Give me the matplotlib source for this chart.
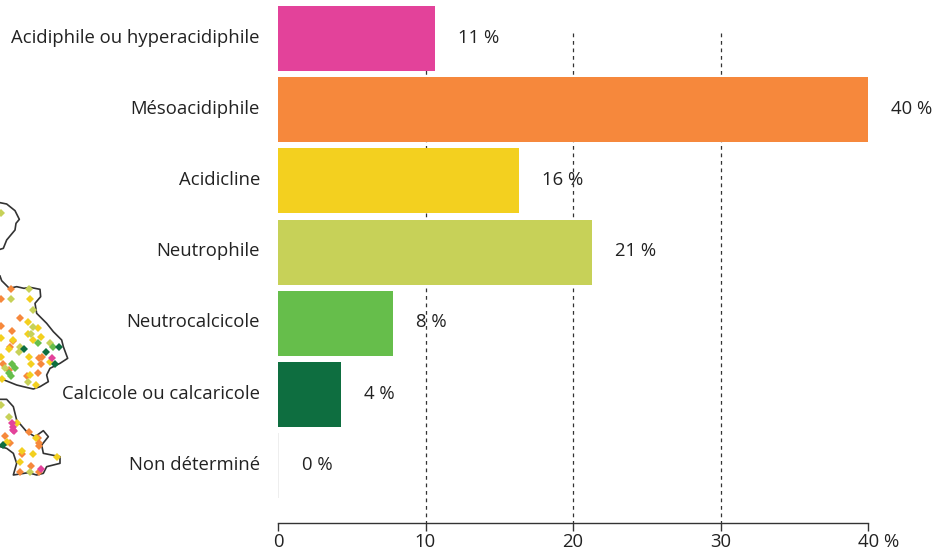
import matplotlib
matplotlib.use("Agg")
import matplotlib.pyplot as plt

plt.rcParams["font.family"] = ["Open Sans", "DejaVu Sans"]

categories = ["Acidiphile ou hyperacidiphile", "Mésoacidiphile", "Acidicline", "Neutrophile",
              "Neutrocalcicole", "Calcicole ou calcaricole", "Non déterminé"]
values = [10.65, 40, 16.35, 21.3, 7.8, 4.3, 0.08]
value_labels = ["11 %", "40 %", "16 %", "21 %", "8 %", "4 %", "0 %"]
bar_colors = ["#E3429A", "#F6883C", "#F3D01F", "#C7D158", "#66BE4B", "#0E6E40", "#EEEEEE"]
x_ticks = [0, 10, 20, 30, 40]
x_labels = ["0", "10", "20", "30", ""]

# map fragments on the left, in units of the 240x870 crop
outline_top = [(0, 38), (20, 42), (45, 62), (58, 88), (48, 100), (45, 120), (20, 150), (10, 175), (0, 178)]
outline_mid = [(0, 258), (5, 272), (28, 295), (50, 290), (72, 295), (90, 292), (120, 298), (122, 320),
               (105, 340), (110, 370), (140, 400), (160, 425), (185, 450), (190, 470), (203, 505),
               (180, 520), (150, 535), (140, 555), (145, 575), (120, 590), (100, 597), (70, 590),
               (50, 585), (25, 575), (0, 565)]
outline_bot = [(0, 628), (20, 628), (40, 650), (50, 690), (80, 725), (105, 740), (130, 722), (145, 740),
               (125, 765), (130, 790), (180, 800), (180, 820), (140, 830), (130, 850), (110, 855),
               (85, 848), (40, 855), (50, 820), (40, 790), (20, 775), (0, 770)]

pts_orange = [(32, 298), (2, 328), (60, 385), (2, 408), (36, 424), (30, 472), (38, 452), (125, 500),
              (118, 505), (122, 522), (8, 522), (28, 540), (114, 549), (80, 558), (88, 725), (14, 738),
              (30, 758), (115, 745), (118, 760), (116, 768), (65, 792), (93, 828), (60, 845), (118, 845)]
pts_yellow = [(89, 327), (85, 397), (115, 415), (122, 442), (100, 450), (85, 432), (2, 445), (40, 450),
              (28, 478), (2, 500), (88, 500), (94, 522), (150, 515), (90, 555), (108, 585), (5, 568),
              (50, 700), (20, 755), (108, 745), (65, 782), (100, 792), (172, 800), (60, 817)]
pts_lime = [(3, 68), (88, 298), (32, 327), (100, 360), (100, 412), (92, 432), (60, 470), (58, 487),
            (150, 460), (15, 533), (85, 577), (28, 680), (3, 645), (90, 845)]
pts_green = [(115, 460), (160, 470), (36, 522), (45, 533), (32, 558), (28, 548)]
pts_dark = [(72, 478), (137, 487), (176, 472), (165, 522), (8, 765)]
pts_pink = [(157, 505), (35, 700), (40, 710), (38, 720), (42, 722), (122, 838)]

W, H = 949, 550
text_col = "#222222"
fs = 13.3

fig = plt.figure(figsize=(W / 100, H / 100), dpi=100)

# map
mp = fig.add_axes([0, (H - 480) / H, 80 / W, 290 / H])
mp.set_xlim(0, 240)
mp.set_ylim(870, 0)
mp.axis("off")
for o in [outline_top, outline_mid, outline_bot]:
    mp.plot([p[0] for p in o], [p[1] for p in o], color="#333333", lw=1.2, zorder=1)
for pts, c in [(pts_orange, "#F6883C"), (pts_yellow, "#F3D01F"), (pts_lime, "#C7D158"),
               (pts_green, "#66BE4B"), (pts_dark, "#0E6E40"), (pts_pink, "#E3429A")]:
    mp.plot([p[0] for p in pts], [p[1] for p in pts], ls="", marker="D", ms=4.2, mew=0, color=c, zorder=2)

# bars
ax = fig.add_axes([278 / W, (H - 523) / H, 590 / W, 523 / H])
ax.patch.set_alpha(0)
ax.set_xlim(0, 40)
ax.set_ylim(6.805, -0.541)
y = list(range(len(categories)))
ax.vlines(x_ticks[1:-1], -0.077, 6.805, color="#333333", lw=0.9, linestyles=(0, (3, 3)), zorder=1)
ax.barh(y, values, height=0.913, color=bar_colors, zorder=2)

for i in y:
    ax.annotate(value_labels[i], (values[i], i), xytext=(16.5, 0.7), textcoords="offset points",
                ha="left", va="center", fontsize=fs, color=text_col, zorder=3, annotation_clip=False)
    ax.annotate(categories[i], (0, i), xytext=(-13, 0.7), textcoords="offset points",
                ha="right", va="center", fontsize=fs, color=text_col, annotation_clip=False)

for s in ["top", "left", "right"]:
    ax.spines[s].set_visible(False)
ax.spines["bottom"].set_color("#333333")
ax.spines["bottom"].set_linewidth(1.0)
ax.set_yticks([])
ax.set_xticks(x_ticks)
ax.set_xticklabels(x_labels, fontsize=fs, color=text_col)
ax.tick_params(axis="x", length=5.8, width=1.0, color="#333333", pad=1.6)
ax.annotate("40 %", (40, 0), xycoords=("data", "axes fraction"), xytext=(-7.4, -7.4),
            textcoords="offset points", ha="left", va="top", fontsize=fs, color=text_col,
            annotation_clip=False)

fig.savefig("out.png", dpi=100)
